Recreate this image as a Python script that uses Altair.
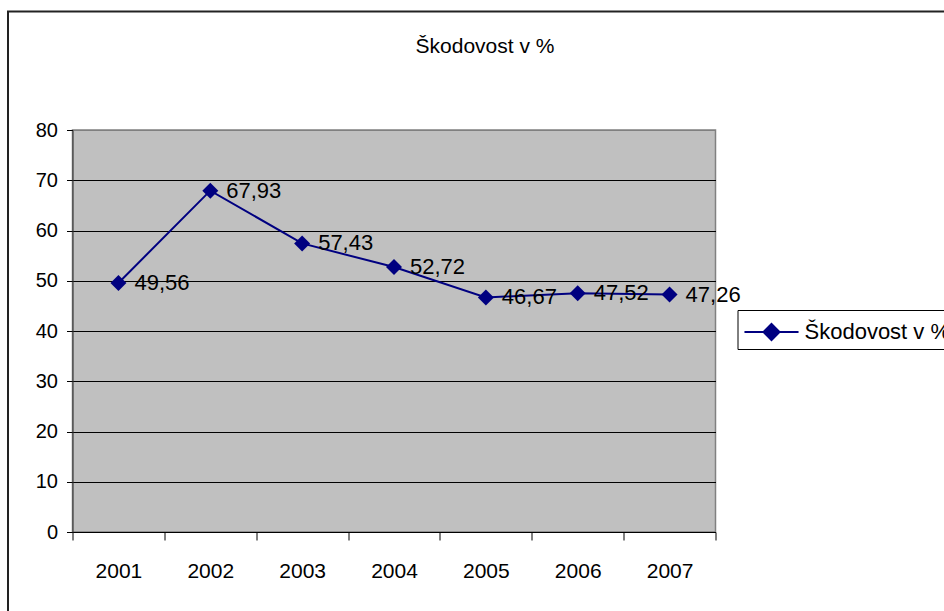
import altair as alt
import pandas as pd

# Loss ratio (škodovost) per year, in percent
years = ["2001", "2002", "2003", "2004", "2005", "2006", "2007"]
values = [49.56, 67.93, 57.43, 52.72, 46.67, 47.52, 47.26]
series_name = "Škodovost v %"

df = pd.DataFrame({"rok": years, "hodnota": values, "rada": series_name})

NAVY = "#000080"
FONT = "Liberation Sans, Arial"

x = alt.X(
    "rok:N",
    title=None,
    sort=years,
    scale=alt.Scale(paddingInner=0, paddingOuter=0),
    axis=alt.Axis(
        labelAngle=0,
        tickBand="extent",
        tickSize=8,
        tickColor="black",
        domainColor="black",
        labelFont=FONT,
        labelFontSize=21,
        labelColor="black",
        labelPadding=20,
        grid=False,
    ),
)
y = alt.Y(
    "hodnota:Q",
    title=None,
    scale=alt.Scale(domain=[0, 80], nice=False, zero=True),
    axis=alt.Axis(
        values=list(range(0, 81, 10)),
        tickSize=6,
        tickColor="black",
        domainColor="#333333",
        labelFont=FONT,
        labelFontSize=20,
        labelColor="black",
        labelPadding=9,
        grid=True,
        gridColor=alt.condition(alt.datum.value == 80, alt.value("#808080"), alt.value("black")),
        gridWidth=1,
    ),
)

line = alt.Chart(df).mark_line(color=NAVY, strokeWidth=2).encode(x=x, y=y)

# legend sample: a short line with a diamond, drawn as one custom symbol path
legend_symbol = "M-0.94,0L2.44,0M0.75,-0.5L1.25,0L0.75,0.5L0.25,0Z"

points = alt.Chart(df).mark_point(
    shape="diamond", filled=True, size=256, opacity=1
).encode(
    x=x,
    y=y,
    color=alt.Color(
        "rada:N",
        scale=alt.Scale(range=[NAVY]),
        legend=alt.Legend(
            title=None,
            orient="none",
            legendX=665,
            legendY=180,
            strokeColor="black",
            fillColor="white",
            padding=5,
            symbolType=legend_symbol,
            symbolSize=1024,
            symbolFillColor=NAVY,
            symbolStrokeColor=NAVY,
            symbolStrokeWidth=2,
            labelFont=FONT,
            labelFontSize=22,
            labelColor="black",
            labelOffset=28,
            labelLimit=400,
        ),
    ),
)

labels = alt.Chart(df).transform_calculate(
    popisek="replace(format(datum.hodnota, '.2f'), '.', ',')"
).mark_text(
    align="left", baseline="middle", dx=16, font=FONT, fontSize=22, color="black"
).encode(x=x, y=y, text="popisek:N")

# outer frame around the whole chart area
frame = alt.Chart(alt.Data(values=[{}])).mark_rect(
    fill=None, stroke="#222222", strokeWidth=2
).encode(
    x=alt.value(-64.5), x2=alt.value(880), y=alt.value(-118.5), y2=alt.value(495)
)

# chart heading, centred over the whole chart area
heading = alt.Chart(alt.Data(values=[{"t": series_name}])).mark_text(
    align="center", baseline="alphabetic", font=FONT, fontSize=21, color="black"
).encode(x=alt.value(412.5), y=alt.value(-77), text="t:N")

chart = (
    alt.layer(frame, heading, line, points, labels)
    .properties(
        width=643,
        height=402,
        autosize=alt.AutoSizeParams(type="none"),
        padding={"left": 72.5, "top": 130, "right": 228.5, "bottom": 79},
        background="white",
    )
    .configure_view(fill="#C0C0C0", stroke="#808080", strokeWidth=1.5)
)

chart.save("out.html", embed_options={"renderer": "svg", "actions": False})
